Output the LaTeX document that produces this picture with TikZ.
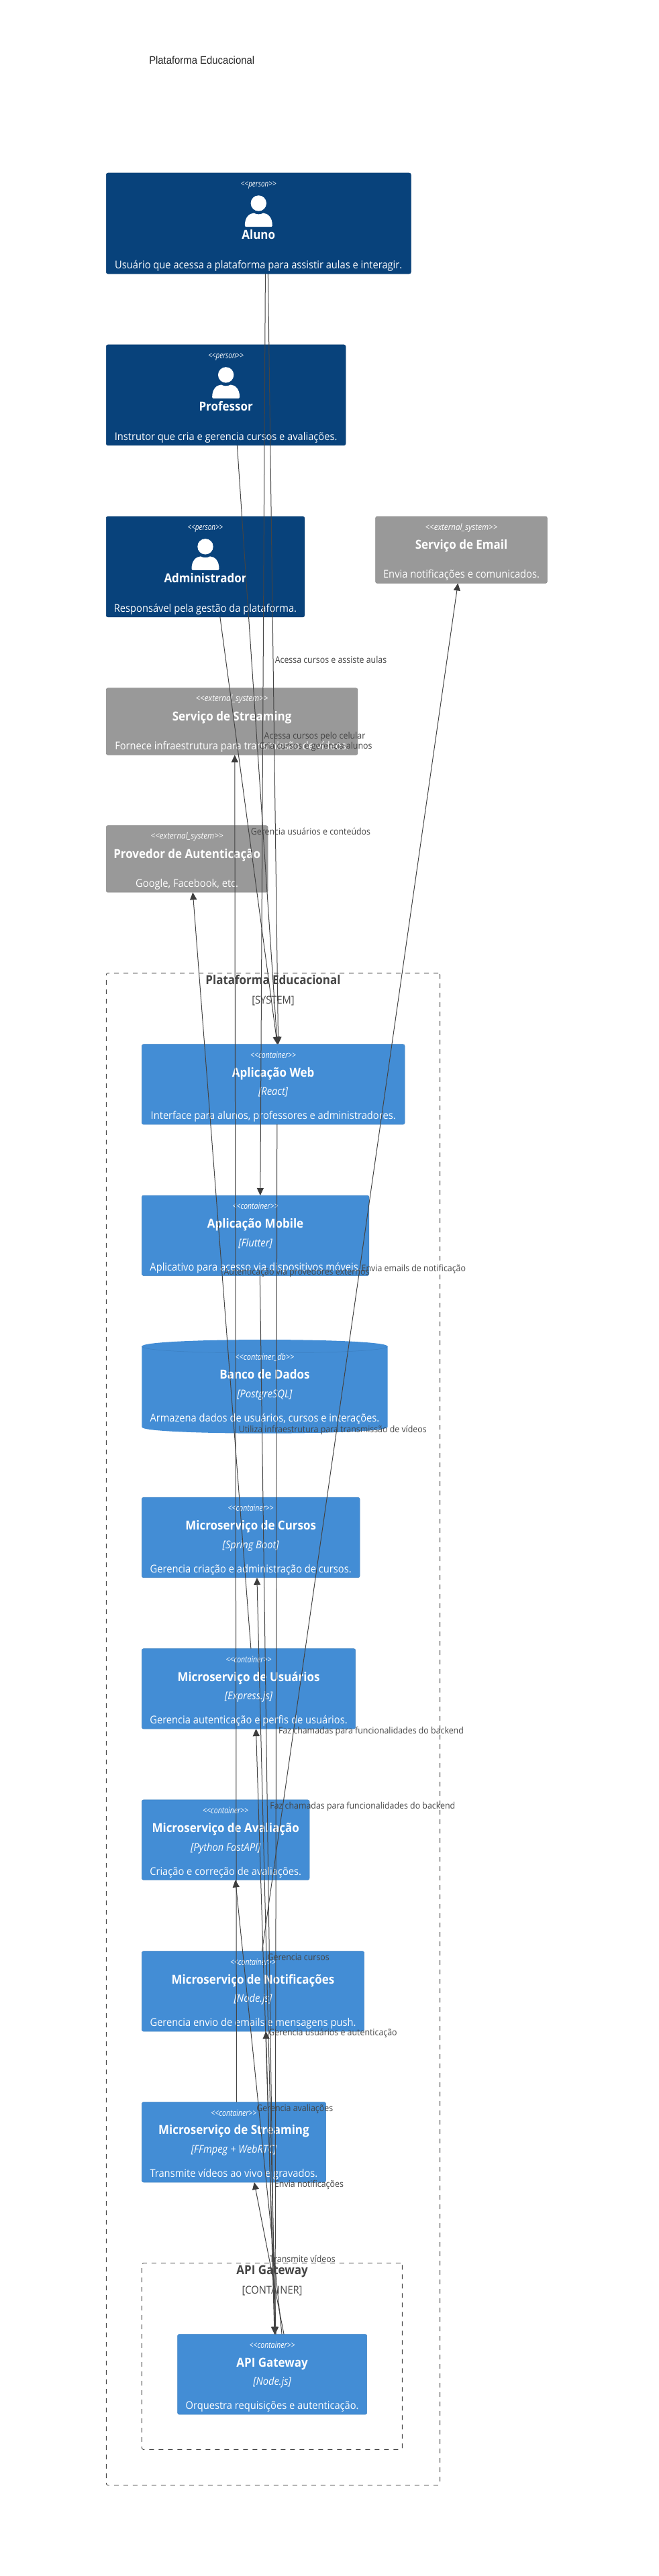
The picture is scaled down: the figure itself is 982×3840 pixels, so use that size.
\documentclass[tikz,border=0pt]{standalone}
\usepackage{graphicx}
\usepackage{fontspec}
\setmainfont{Open Sans}
\newfontfamily\arialfam{Liberation Sans}
\usetikzlibrary{arrows.meta}
\definecolor{personfill}{HTML}{08427B}
\definecolor{personline}{HTML}{073B6F}
\definecolor{extfill}{HTML}{999999}
\definecolor{extline}{HTML}{8A8A8A}
\definecolor{contfill}{HTML}{438DD5}
\definecolor{contline}{HTML}{3C7FC0}
\definecolor{ink}{HTML}{444444}
\newcommand{\sx}[1]{\scalebox{0.917}[1]{#1}}
\newcommand{\ster}[2]{\resizebox{#1pt}{\height}{\mbox{<}\mbox{<}#2\mbox{>}\mbox{>}}}
\tikzset{
  box/.style={rectangle,rounded corners=2.5pt,line width=0.5pt,inner sep=0pt,outer sep=0pt,anchor=center},
  personbox/.style={box,fill=personfill,draw=personline},
  extbox/.style={box,fill=extfill,draw=extline},
  contbox/.style={box,fill=contfill,draw=contline},
  txt/.style={inner sep=0pt,outer sep=0pt,anchor=center,text=white},
  stereo/.style={txt,font=\fontsize{13}{15}\selectfont\itshape,text height=10.4pt,text depth=2.6pt},
  nametxt/.style={txt,font=\fontsize{18.5}{21}\selectfont\bfseries,text height=14.8pt,text depth=3.7pt},
  techtxt/.style={txt,font=\fontsize{16}{18}\selectfont\itshape,text height=12.8pt,text depth=3.2pt},
  desctxt/.style={txt,font=\fontsize{16}{18}\selectfont,text height=12.8pt,text depth=3.2pt},
  boundary/.style={draw=ink,line width=0.9pt,dash pattern=on 7pt off 7pt,rounded corners=2.5pt,inner sep=0pt,outer sep=0pt,anchor=center},
  boundname/.style={nametxt,text=ink},
  boundtype/.style={desctxt,text=ink},
  rel/.style={draw=ink,line width=1pt,-{Triangle[length=11pt,width=10pt,color=ink!90!black]}},
  rellabel/.style={txt,text=ink,font=\fontsize{13.5}{15}\selectfont,text height=10.8pt,text depth=2.7pt},
}
% name, cx, top, title, description, (unused), width
\newcommand{\personnode}[7]{%
  \node[personbox,minimum width=#7 pt,minimum height=150pt] (#1) at (#2,#3+75) {};
  \node[stereo] (#1-st) at (#2,#3+16.7) {\ster{52.7}{person}};
  \begin{scope}[shift={(#2,#3)}]
    \fill[white] (0,45) circle (11.7pt);
    \fill[white] (-20.5,78) .. controls (-20.5,66) and (-14,60) .. (-7,59.6) .. controls (-3,62) and (3,62) .. (7,59.6) .. controls (14,60) and (20.5,66) .. (20.5,78) .. controls (20.5,80) and (19,80) .. (18,80) -- (-18,80) .. controls (-19,80) and (-20.5,80) .. (-20.5,78) -- cycle;
  \end{scope}
  \node[nametxt] (#1-nm) at (#2,#3+93.4) {\sx{#4}};
  \node[desctxt] (#1-de) at (#2,#3+137.9) {\sx{#5}};
}
% name, cx, top, width, height, title, description
\newcommand{\extnode}[7]{%
  \node[extbox,minimum width=#4 pt,minimum height=#5 pt] (#1) at (#2,#3+#5/2) {};
  \node[stereo] (#1-st) at (#2,#3+16.3) {\ster{108}{external\_system}};
  \node[nametxt] (#1-nm) at (#2,#3+42.9) {\sx{#6}};
  \node[desctxt] (#1-de) at (#2,#3+86.9) {\sx{#7}};
}
% name, cx, top, width, title, tech, description
\newcommand{\contnode}[7]{%
  \node[contbox,minimum width=#4 pt,minimum height=119.5pt] (#1) at (#2,#3+59.75) {};
  \node[stereo] (#1-st) at (#2,#3+16.7) {\ster{68}{container}};
  \node[nametxt] (#1-nm) at (#2,#3+42.9) {\sx{#5}};
  \node[techtxt] (#1-te) at (#2,#3+71.4) {\sx{#6}};
  \node[desctxt] (#1-de) at (#2,#3+107.3) {\sx{#7}};
}
\newcommand{\lab}[4]{\node[rellabel] (#1) at (#2,#3) {\sx{#4}};}
\begin{document}
\begin{tikzpicture}[x=1pt,y=-1pt]
\useasboundingbox (0,0) rectangle (982,3840);
\fill[white] (0,0) rectangle (982,3840);

\node[txt,text=black!85,font=\fontsize{16.2}{18}\selectfont\arialfam] (title) at (300.7,89.8) {\sx{Plataforma Educacional}};

% boundaries
\node[boundary,minimum width=497.3pt,minimum height=2253.9pt] (system) at (406.95,2577.55) {};
\node[boundname] (system-nm) at (407,1461.6) {\sx{Plataforma Educacional}};
\node[boundtype] (system-ty) at (407,1491.4) {\sx{[SYSTEM]}};
\node[boundary,minimum width=388pt,minimum height=277.9pt] (apibound) at (405.4,3512.45) {};
\node[boundname] (apibound-nm) at (405.6,3384.5) {\sx{API Gateway}};
\node[boundtype] (apibound-ty) at (405.6,3414.3) {\sx{[CONTAINER]}};

% people
\personnode{aluno}{385.3}{258}{Aluno}{Usuário que acessa a plataforma para assistir aulas e interagir.}{}{454}
\personnode{prof}{336.65}{513.9}{Professor}{Instrutor que cria e gerencia cursos e avaliações.}{}{356.7}
\personnode{admin}{306}{769.8}{Administrador}{Responsável pela gestão da plataforma.}{}{295.5}

% external systems
\extnode{email}{687.5}{769.8}{255.8}{99.6}{Serviço de Email}{Envia notificações e comunicados.}
\extnode{extstream}{345.6}{1025.7}{374.6}{99.6}{Serviço de Streaming}{Fornece infraestrutura para transmissão de vídeos.}
\extnode{auth}{278.65}{1230.6}{240.7}{99.6}{Provedor de Autenticação}{Google, Facebook, etc.}

% containers
\contnode{web}{407.2}{1556.7}{391.6}{Aplicação Web}{[React]}{Interface para alunos, professores e administradores.}
\contnode{mobile}{380.6}{1782}{338.4}{Aplicação Mobile}{[Flutter]}{Aplicativo para acesso via dispositivos móveis.}

% database
\fill[contfill] (211.4,2007) .. controls (211.4,1993.7) and (577.5,1993.7) .. (577.5,2007) -- (577.5,2127.3) .. controls (577.5,2139.8) and (211.4,2139.8) .. (211.4,2127.3) -- cycle;
\draw[contline,line width=0.5pt] (211.4,2007) .. controls (211.4,2020.3) and (577.5,2020.3) .. (577.5,2007);
\node[inner sep=0pt,outer sep=0pt,minimum width=366.1pt,minimum height=140pt] (db) at (394.45,2066.7) {};
\node[stereo] (db-st) at (394.45,2023.2) {\ster{88}{container\_db}};
\node[nametxt] (db-nm) at (394.45,2049.7) {\sx{Banco de Dados}};
\node[techtxt] (db-te) at (394.45,2079.1) {\sx{[PostgreSQL]}};
\node[desctxt] (db-de) at (394.45,2115.1) {\sx{Armazena dados de usuários, cursos e interações.}};

\contnode{cursos}{373.7}{2232.2}{324.6}{Microserviço de Cursos}{[Spring Boot]}{Gerencia criação e administração de cursos.}
\contnode{usuarios}{370.55}{2457.6}{318.3}{Microserviço de Usuários}{[Express.js]}{Gerencia autenticação e perfis de usuários.}
\contnode{aval}{336.2}{2682.9}{249.6}{Microserviço de Avaliação}{[Python FastAPI]}{Criação e correção de avaliações.}
\contnode{notif}{377}{2908.6}{331.3}{Microserviço de Notificações}{[Node.js]}{Gerencia envio de emails e mensagens push.}
\contnode{msstream}{348.45}{3133.5}{274.1}{Microserviço de Streaming}{[FFmpeg + WebRTC]}{Transmite vídeos ao vivo e gravados.}
\contnode{api}{405.65}{3479.6}{282.1}{API Gateway}{[Node.js]}{Orquestra requisições e autenticação.}

% connectors
\draw[rel] ([xshift=14.1pt]aluno.south) -- ([xshift=7.4pt]web.north);
\draw[rel] ([xshift=10.1pt]aluno.south) -- ([xshift=7.2pt]mobile.north);
\draw[rel] ([xshift=16.75pt]prof.south) -- ([xshift=6pt]web.north);
\draw[rel] ([xshift=21.9pt]admin.south) -- ([xshift=6pt]web.north);
\draw[rel] ([xshift=5.6pt]web.south) -- ([xshift=4.4pt]api.north);
\draw[rel] ([xshift=6.7pt]mobile.south) -- ([xshift=3.5pt]api.north);
\draw[rel] ([xshift=5.4pt]api.north) -- ([xshift=9.2pt]cursos.south);
\draw[rel] ([xshift=4.4pt]api.north) -- ([xshift=10.9pt]usuarios.south);
\draw[rel] ([xshift=14.4pt]api.north) -- ([xshift=14.5pt]aval.south);
\draw[rel] ([xshift=3.4pt]api.north) -- ([xshift=19.3pt]notif.south);
\draw[rel] ([xshift=17.4pt]api.north) -- ([xshift=30.4pt]msstream.south);
\draw[rel] ([xshift=3.35pt]usuarios.north) -- ([xshift=8.65pt]auth.south);
\draw[rel] ([xshift=13.4pt]notif.north) -- ([xshift=-5.1pt]email.south);
\draw[rel] ([xshift=4.05pt]msstream.north) -- ([xshift=4.2pt]extstream.south);

% connector labels
\lab{l1}{493}{984.5}{Acessa cursos e assiste aulas}
\lab{l2}{469}{1097.6}{Acessa cursos pelo celular}
\lab{l3}{470.5}{1112.7}{Cria cursos e gerencia alunos}
\lab{l4}{463}{1240.4}{Gerencia usuários e conteúdos}
\lab{l5}{553}{2580.4}{Faz chamadas para funcionalidades do backend}
\lab{l6}{540.3}{2692.2}{Faz chamadas para funcionalidades do backend}
\lab{l7}{442}{1896.3}{Autenticação via provedores externos}
\lab{l8}{616.4}{1891.4}{Envia emails de notificação}
\lab{l9}{495.8}{2131.4}{Utiliza infraestrutura para transmissão de vídeos}
\lab{l10}{444.7}{2918.4}{Gerencia cursos}
\lab{l11}{496}{3030.6}{Gerencia usuários e autenticação}
\lab{l12}{439.3}{3143.7}{Gerencia avaliações}
\lab{l13}{460.5}{3256.3}{Envia notificações}
\lab{l14}{450.8}{3368.6}{Transmite vídeos}
\end{tikzpicture}
\end{document}
